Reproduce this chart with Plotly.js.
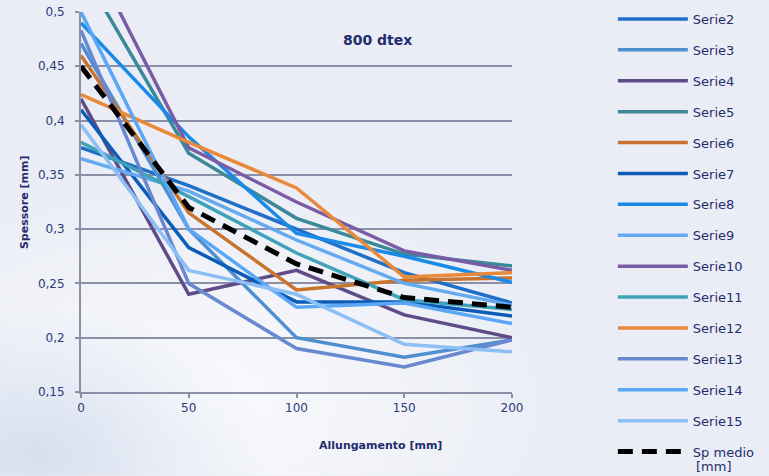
<!DOCTYPE html>
<html>
<head>
<meta charset="utf-8">
<script src="https://cdn.plot.ly/plotly-3.0.1.min.js"></script>
<style>
html,body{margin:0;padding:0;background:#eaedf5;}
#chart{width:769px;height:476px;}
</style>
</head>
<body>
<div id="chart"></div>
<script>
// Allungamento [mm]
const xValues = [0, 50, 100, 150, 200];

const serie2  = [0.375, 0.340, 0.300, 0.260, 0.232];
const serie3  = [0.471, 0.300, 0.200, 0.182, 0.198];
const serie4  = [0.420, 0.240, 0.262, 0.221, 0.200];
const serie5  = [0.540, 0.370, 0.310, 0.277, 0.266];
const serie6  = [0.460, 0.315, 0.244, 0.253, 0.255];
const serie7  = [0.410, 0.283, 0.233, 0.233, 0.220];
const serie8  = [0.490, 0.385, 0.296, 0.275, 0.251];
const serie9  = [0.365, 0.335, 0.290, 0.250, 0.230];
const serie10 = [0.570, 0.375, 0.325, 0.280, 0.262];
const serie11 = [0.380, 0.330, 0.278, 0.235, 0.226];
const serie12 = [0.424, 0.380, 0.338, 0.256, 0.260];
const serie13 = [0.483, 0.250, 0.190, 0.173, 0.198];
const serie14 = [0.500, 0.300, 0.228, 0.232, 0.213];
const serie15 = [0.396, 0.262, 0.240, 0.194, 0.187];
const spMedio = [0.450, 0.320, 0.268, 0.237, 0.228];

const seriesNames = ["Serie2","Serie3","Serie4","Serie5","Serie6","Serie7","Serie8",
                     "Serie9","Serie10","Serie11","Serie12","Serie13","Serie14","Serie15"];
const seriesValues = [serie2, serie3, serie4, serie5, serie6, serie7, serie8,
                      serie9, serie10, serie11, serie12, serie13, serie14, serie15];
const seriesColors = ["#1f6fc8","#4f8fd0","#5f4b88","#3a8898","#c8742e","#0a5cb8","#1a8ae8",
                      "#64aaf0","#7a5ca6","#40a2ba","#e88a3a","#6888d0","#5aa8f5","#8cc0f5"];
const meanName = "Sp medio";
const meanUnit = "[mm]";

const navy = "#1f2d6e";
const fontFam = "Verdana, 'DejaVu Sans', sans-serif";

const traces = seriesNames.map((n, i) => ({
  type: "scatter", mode: "lines", name: n, legendgroup: n,
  x: xValues, y: seriesValues[i],
  line: {color: seriesColors[i], width: 3.5},
  hoverinfo: "x+y+name"
}));
traces.push({
  type: "scatter", mode: "lines", name: meanName, legendgroup: "mean",
  x: xValues, y: spMedio,
  line: {color: "#000000", width: 5, dash: "15px,9px"}
});

const bgSvg = "<svg xmlns='http://www.w3.org/2000/svg' width='769' height='476'>" +
  "<defs><radialGradient id='g1' cx='0.25' cy='0.85' r='0.5'>" +
  "<stop offset='0' stop-color='#ffffff' stop-opacity='0.75'/>" +
  "<stop offset='1' stop-color='#ffffff' stop-opacity='0'/></radialGradient>" +
  "<radialGradient id='g2' cx='0.05' cy='0.95' r='0.3'>" +
  "<stop offset='0' stop-color='#c4d2e8' stop-opacity='0.6'/>" +
  "<stop offset='1' stop-color='#c4d2e8' stop-opacity='0'/></radialGradient></defs>" +
  "<rect width='769' height='476' fill='url(#g1)'/>" +
  "<rect width='769' height='476' fill='url(#g2)'/></svg>";
const bgUri = "data:image/svg+xml;charset=utf-8," + encodeURIComponent(bgSvg);

const layout = {
  width: 769, height: 476,
  margin: {l: 81, r: 257, t: 12, b: 84, autoexpand: false},
  paper_bgcolor: "#eaedf5",
  plot_bgcolor: "rgba(0,0,0,0)",
  separators: ", ",
  font: {family: fontFam, color: navy, size: 12},
  showlegend: true,
  images: [{source: bgUri, xref: "paper", yref: "paper", x: -0.188, y: 1.032,
            sizex: 769/431, sizey: 476/380, xanchor: "left", yanchor: "top",
            sizing: "stretch", layer: "below"}],
  legend: {
    x: 1.234, xanchor: "left", y: 1.021, yanchor: "top",
    bgcolor: "rgba(0,0,0,0)",
    font: {family: fontFam, size: 13, color: navy},
    traceorder: "grouped", tracegroupgap: 11,
    itemwidth: 70, valign: "middle", maxheight: 476
  },
  xaxis: {
    range: [0, 200], tickvals: [0, 50, 100, 150, 200],
    showgrid: false, zeroline: false,
    showline: true, linecolor: "#8c8fa8", linewidth: 2,
    ticks: "outside", ticklen: 4, tickcolor: "#8c8fa8", tickwidth: 1.5,
    tickfont: {family: fontFam, size: 12, color: "#2b3a7a"}
  },
  yaxis: {
    range: [0.15, 0.5], tickvals: [0.15, 0.2, 0.25, 0.3, 0.35, 0.4, 0.45, 0.5],
    ticktext: ["0,15","0,2","0,25","0,3","0,35","0,4","0,45","0,5"],
    showgrid: true, gridcolor: "#8c8fa8", gridwidth: 2,
    zeroline: false,
    showline: true, linecolor: "#8c8fa8", linewidth: 2,
    ticks: "outside", ticklen: 4, tickcolor: "#8c8fa8", tickwidth: 1.5,
    ticklabelstandoff: 8,
    tickfont: {family: fontFam, size: 12, color: "#2b3a7a"}
  },
  annotations: [
    {text: "<b>800 dtex</b>", xref: "paper", yref: "paper", x: 0.687, y: 0.926,
     xanchor: "center", yanchor: "middle",
     showarrow: false, font: {family: fontFam, size: 14, color: navy}},
    {text: "<b>Allungamento [mm]</b>", xref: "paper", yref: "paper", x: 0.694, y: -0.142,
     xanchor: "center", yanchor: "middle",
     showarrow: false, font: {family: fontFam, size: 11, color: navy}},
    {text: "<b>Spessore [mm]</b>", xref: "paper", yref: "paper", x: -0.132, y: 0.5,
     xanchor: "center", yanchor: "middle",
     textangle: -90, showarrow: false, font: {family: fontFam, size: 11, color: navy}},
    {text: meanUnit, xref: "paper", yref: "paper", x: 1.422, y: -0.197,
     xanchor: "left", yanchor: "middle",
     showarrow: false, font: {family: fontFam, size: 13, color: navy}}
  ]
};

Plotly.newPlot("chart", traces, layout, {displayModeBar: false, responsive: false});
</script>
</body>
</html>
